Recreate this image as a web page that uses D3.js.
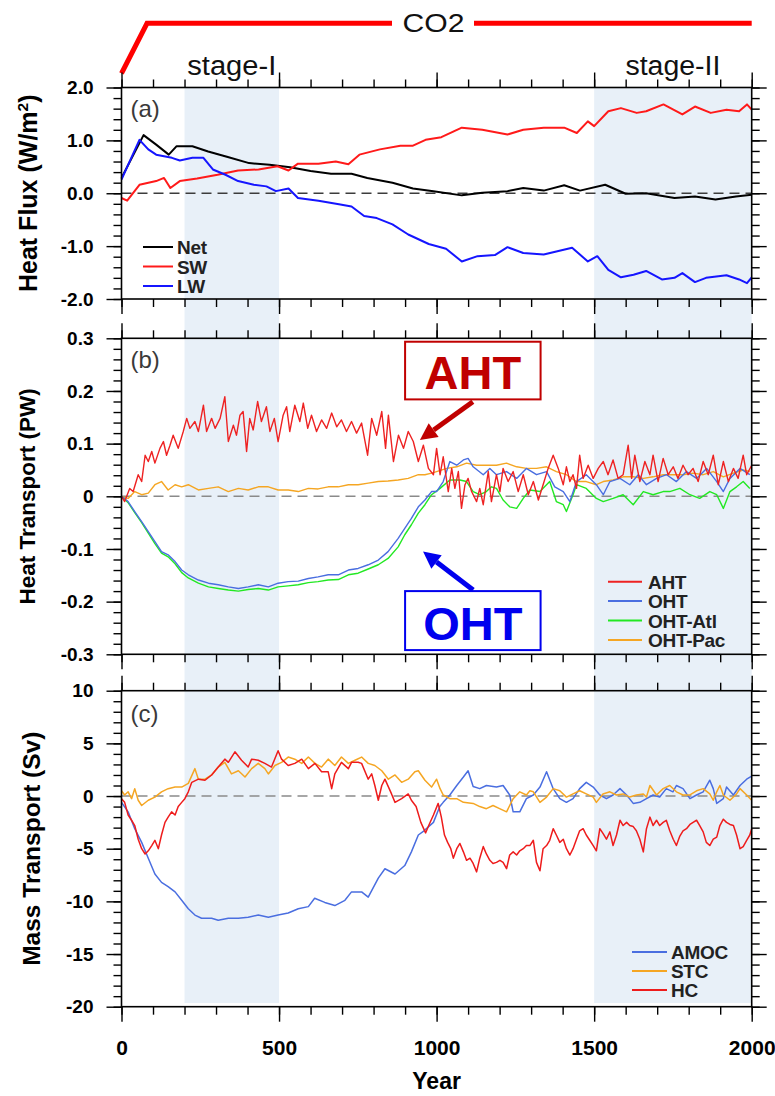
<!DOCTYPE html>
<html>
<head>
<meta charset="utf-8">
<script src="https://cdn.jsdelivr.net/npm/d3@7"></script>
<style>
  body { margin: 0; background: #fff; }
  svg text { font-family: "Liberation Sans", Arial, Helvetica, sans-serif; }
</style>
</head>
<body>
<svg id="chart" width="775" height="1096"></svg>
<script>
// ---------------- Panel (a): TOA heat flux anomalies (W/m2) ----------------
const netYears = [0,70,110,150,175,225,275,340,405,470,535,600,665,730,780,860,925,990,1080,1145,1225,1275,1340,1405,1455,1535,1600,1665,1755,1820,1885,1950,2000];
const netFlux  = [0.29,1.10,0.92,0.73,0.89,0.89,0.79,0.68,0.57,0.54,0.49,0.42,0.37,0.37,0.29,0.20,0.09,0.04,-0.04,0.01,0.04,0.10,0.05,0.15,0.05,0.16,-0.01,0.00,-0.09,-0.06,-0.12,-0.06,-0.03];

const swYears = [0,18,57,110,135,155,185,240,305,370,435,495,530,560,625,680,720,755,820,885,925,965,1015,1080,1145,1225,1275,1340,1405,1445,1480,1500,1545,1585,1635,1665,1720,1780,1820,1870,1920,1960,1985,2000];
const swFlux  = [-0.09,-0.14,0.16,0.23,0.29,0.10,0.23,0.28,0.35,0.43,0.45,0.51,0.43,0.56,0.56,0.60,0.55,0.73,0.83,0.90,0.90,1.01,1.06,1.24,1.20,1.11,1.20,1.24,1.24,1.14,1.36,1.27,1.55,1.61,1.52,1.55,1.68,1.49,1.64,1.52,1.58,1.55,1.68,1.58];

const lwYears = [0,57,85,110,160,185,225,260,290,330,370,420,460,490,530,560,625,690,730,770,810,860,910,975,1030,1080,1130,1185,1225,1275,1340,1380,1430,1480,1510,1545,1585,1625,1665,1715,1755,1780,1820,1855,1920,1960,1985,2000];
const lwFlux  = [0.26,1.01,0.83,0.73,0.67,0.62,0.67,0.67,0.45,0.35,0.23,0.16,0.13,0.04,0.09,-0.09,-0.14,-0.21,-0.25,-0.43,-0.47,-0.59,-0.78,-0.96,-1.05,-1.29,-1.19,-1.17,-1.02,-1.13,-1.16,-1.10,-1.03,-1.29,-1.19,-1.45,-1.59,-1.54,-1.47,-1.63,-1.60,-1.51,-1.68,-1.60,-1.55,-1.63,-1.70,-1.59];

// ---------------- Panel (b): cross-equatorial heat transport (PW) ----------------
const ahtYears = [0,10,26,37,53,64,75,85,96,106,122,133,143,154,164,180,196,207,217,233,244,260,270,286,297,313,328,339,355,365,376,386,397,407,418,432,444,460,471,485,497,513,524,534,550,566,577,591,603,619,635,651,667,683,698,714,730,746,762,781,794,810,826,838,847,863,879,895,910,926,942,958,974,990,1000,1011,1021,1037,1048,1058,1069,1079,1090,1100,1111,1127,1137,1148,1164,1174,1190,1201,1211,1227,1243,1259,1275,1291,1307,1323,1338,1354,1370,1386,1402,1412,1423,1433,1444,1454,1465,1481,1497,1513,1529,1544,1560,1576,1592,1608,1619,1629,1645,1661,1677,1687,1703,1719,1735,1751,1766,1782,1798,1814,1830,1846,1862,1878,1894,1910,1926,1942,1957,1973,1984,2000];
const ahtValues = [0,-0.010,0.015,0.009,0.041,0.028,0.078,0.066,0.085,0.063,0.091,0.104,0.078,0.097,0.116,0.091,0.123,0.148,0.129,0.142,0.123,0.173,0.123,0.148,0.129,0.148,0.189,0.104,0.135,0.116,0.154,0.161,0.085,0.148,0.126,0.180,0.142,0.170,0.123,0.148,0.104,0.154,0.170,0.123,0.173,0.142,0.177,0.129,0.154,0.123,0.145,0.129,0.158,0.132,0.145,0.123,0.142,0.120,0.139,0.078,0.148,0.116,0.161,0.091,0.154,0.066,0.116,0.091,0.123,0.104,0.066,0.097,0.053,0.041,0.091,0.041,0.075,0.009,0.053,0.015,0.047,-0.023,0.022,0.034,0.009,-0.010,0.015,-0.016,0.047,-0.010,0.041,0.009,0.053,0.028,0.047,0.009,0.041,0.003,0.028,-0.007,0.022,0.053,0.078,0.053,0.022,0.056,0.028,0.041,0.015,0.078,0.034,0.059,0.034,0.053,0.066,0.041,0.069,0.034,0.041,0.097,0.034,0.078,0.028,0.066,0.041,0.078,0.028,0.072,0.041,0.056,0.034,0.059,0.041,0.053,0.028,0.066,0.041,0.078,0.022,0.066,0.028,0.053,0.034,0.078,0.041,0.059];

const ohtYears = [0,21,42,64,85,106,127,148,170,191,212,244,276,307,339,371,402,434,466,497,529,561,593,624,656,688,720,751,783,815,846,878,899,920,942,963,984,1000,1021,1042,1064,1085,1100,1116,1148,1169,1190,1222,1254,1285,1317,1349,1375,1402,1423,1444,1475,1507,1529,1550,1582,1613,1640,1666,1698,1730,1761,1793,1825,1857,1889,1910,1931,1963,1994];
const ohtValues = [0,-0.010,-0.029,-0.048,-0.067,-0.086,-0.105,-0.111,-0.124,-0.140,-0.149,-0.159,-0.165,-0.168,-0.172,-0.175,-0.172,-0.168,-0.172,-0.165,-0.162,-0.161,-0.156,-0.153,-0.149,-0.149,-0.140,-0.137,-0.130,-0.121,-0.105,-0.080,-0.061,-0.042,-0.020,-0.007,0.009,0.009,0.028,0.066,0.059,0.069,0.072,0.056,0.041,0.053,0.041,0.047,0.034,0.053,0.041,0.047,0.018,0.009,-0.010,0.028,0.041,0.022,0.003,0.028,0.034,0.022,0.041,0.022,0.034,0.041,0.028,0.047,0.034,0.053,0.028,0.009,0.034,0.053,0.041];

const atlYears = [0,21,42,64,85,106,127,148,170,191,212,244,276,307,339,371,402,434,466,497,529,561,593,624,656,688,720,751,783,815,846,878,899,920,942,963,984,1011,1042,1074,1095,1116,1137,1158,1174,1190,1211,1232,1254,1275,1296,1328,1359,1380,1402,1412,1433,1444,1475,1507,1529,1560,1592,1624,1656,1687,1719,1740,1772,1804,1835,1867,1889,1910,1931,1952,1973,1994];
const atlValues = [0,-0.012,-0.031,-0.050,-0.070,-0.090,-0.108,-0.115,-0.128,-0.145,-0.155,-0.165,-0.172,-0.175,-0.178,-0.180,-0.177,-0.175,-0.178,-0.172,-0.170,-0.168,-0.164,-0.162,-0.159,-0.158,-0.149,-0.146,-0.138,-0.130,-0.118,-0.096,-0.073,-0.054,-0.032,-0.016,0.003,0.015,0.031,0.031,0.028,0.009,0.003,0.009,0.018,0.015,-0.007,-0.020,-0.023,-0.004,0.012,0.009,0.028,-0.010,-0.016,-0.029,0.003,0.022,0.015,-0.004,-0.010,-0.004,0.003,-0.016,0.009,0.003,0.009,0.009,0.015,0.003,-0.004,0.009,0.003,-0.023,0.009,0.018,0.028,0.015];

const pacYears = [0,21,42,64,85,106,127,148,170,191,212,244,276,307,339,371,402,434,466,497,529,561,593,624,656,688,720,751,783,815,846,878,910,942,963,984,1000,1032,1064,1095,1127,1158,1190,1222,1254,1285,1317,1349,1380,1412,1444,1475,1507,1529,1560,1592,1624,1656,1687,1719,1751,1782,1814,1846,1878,1910,1942,1973,1994];
const pacValues = [0,-0.004,0.009,0.003,0.006,0.022,0.028,0.012,0.022,0.018,0.022,0.012,0.015,0.018,0.009,0.015,0.012,0.018,0.018,0.012,0.012,0.009,0.015,0.014,0.018,0.018,0.022,0.022,0.025,0.028,0.029,0.031,0.034,0.041,0.041,0.044,0.047,0.053,0.056,0.063,0.059,0.059,0.059,0.063,0.056,0.053,0.053,0.056,0.047,0.041,0.028,0.028,0.022,0.028,0.031,0.037,0.037,0.034,0.037,0.041,0.041,0.041,0.044,0.041,0.047,0.037,0.044,0.050,0.047];

// ---------------- Panel (c): overturning mass transport (Sv) ----------------
const amocYears = [0,21,42,64,85,106,127,148,170,191,212,233,254,286,307,339,371,402,434,466,497,529,561,593,613,645,677,709,730,762,783,815,836,868,899,920,942,960,990,1010,1021,1042,1064,1085,1100,1116,1137,1158,1190,1211,1232,1243,1264,1285,1307,1328,1349,1370,1391,1412,1433,1454,1475,1497,1518,1539,1560,1582,1603,1624,1645,1666,1687,1708,1729,1750,1761,1782,1804,1825,1846,1867,1878,1889,1910,1920,1942,1963,1984,2000];
const amocValues = [-0.6,-1.5,-3.1,-4.4,-5.9,-7.4,-8.2,-8.6,-9.1,-9.9,-10.7,-11.3,-11.6,-11.6,-11.8,-11.6,-11.6,-11.5,-11.3,-11.5,-11.3,-11.1,-10.7,-10.5,-9.7,-10.1,-10.4,-9.9,-9.1,-9.1,-9.6,-7.8,-6.9,-7.4,-6.6,-5.3,-3.7,-3.3,-2.5,-1.0,-0.6,0.1,1.0,1.8,2.4,0.9,0.7,1.0,0.85,1.0,0.1,-1.5,-1.5,-0.25,0.1,0.85,2.3,0.7,-0.25,-0.6,-0.25,0.7,1.3,0.85,0.1,-0.25,0.1,0.7,0.1,-0.7,-0.6,-0.25,0.1,-0.1,0.7,0.4,1.0,0.7,-0.25,0.1,0.4,1.5,0.7,-0.7,-0.25,0.85,0.1,1.0,1.6,1.9];

const stcYears = [0,10,21,32,42,53,64,85,106,127,148,170,191,212,233,244,265,286,307,328,349,371,392,413,434,455,466,487,508,529,550,572,593,614,635,656,677,698,720,741,762,783,804,826,847,868,889,910,931,942,963,984,1000,1011,1021,1042,1064,1085,1116,1137,1158,1179,1200,1222,1243,1264,1285,1296,1307,1328,1349,1370,1391,1412,1433,1454,1475,1497,1507,1528,1550,1571,1592,1613,1634,1656,1666,1677,1698,1719,1740,1761,1782,1804,1825,1846,1867,1878,1889,1899,1910,1931,1952,1963,1984,2000];
const stcValues = [0.5,0.1,0.4,-0.25,0.7,-0.4,-0.9,-0.4,-0.1,0.4,0.7,0.85,0.85,1.2,2.6,1.6,1.6,2.0,2.75,3.2,2.1,2.4,1.8,2.6,3.1,2.6,2.1,2.9,3.2,3.7,3.5,3.1,3.7,3.1,2.75,3.5,2.9,3.7,3.1,3.4,3.7,3.1,2.9,2.4,1.6,2.0,1.3,1.6,2.3,2.4,1.5,0.85,1.6,0.7,0.1,-0.25,-0.25,-0.6,-0.7,-1.0,-1.2,-0.9,-1.2,-1.5,-0.25,0.4,0.1,0.5,0.4,-0.6,-0.1,0.7,0.5,-0.1,0.2,0.5,0.2,-0.1,-0.6,0.2,0.4,0.1,0.2,-0.1,0.1,0.2,-0.1,1.0,0.1,0.7,1.0,0.4,0.1,0.1,0.5,0.7,0.2,-0.4,0.4,1.0,0.1,-0.4,0.2,0.7,0.1,-0.4];

const hcYears = [0,10,21,32,42,53,64,75,85,96,106,117,127,138,148,159,170,180,191,201,212,223,244,265,286,307,328,339,360,381,402,413,434,455,476,497,508,529,550,572,593,614,635,656,667,677,698,720,730,751,762,783,794,804,815,826,836,857,868,889,910,920,935,950,965,975,990,1005,1015,1025,1035,1045,1053,1064,1074,1085,1095,1106,1116,1127,1137,1148,1158,1169,1179,1190,1201,1211,1222,1232,1243,1254,1264,1275,1285,1296,1307,1317,1328,1338,1349,1359,1370,1380,1391,1402,1412,1423,1433,1444,1454,1465,1475,1486,1497,1507,1518,1529,1539,1550,1560,1571,1582,1592,1603,1613,1624,1634,1645,1656,1666,1677,1687,1698,1708,1719,1729,1740,1751,1761,1772,1782,1793,1804,1814,1825,1835,1846,1856,1867,1878,1889,1899,1910,1920,1931,1942,1952,1963,1973,1984,1994,2000];
const hcValues = [-0.25,-0.6,-1.8,-2.3,-2.8,-4.1,-5.0,-5.5,-5.2,-4.7,-4.2,-5.0,-3.7,-2.5,-2.0,-1.5,-1.8,-1.0,-0.6,-0.25,0.4,1.3,1.6,1.5,2.0,2.75,3.5,3.2,4.2,3.4,2.75,3.5,3.4,3.1,2.75,4.3,3.5,2.9,3.1,3.5,2.6,3.1,2.3,2.3,0.7,2.1,3.2,2.6,3.2,3.2,3.1,1.6,2.1,1.0,-0.4,1.0,1.6,0.2,-0.6,-0.25,0.2,-0.4,-1.0,-2.5,-3.5,-2.8,-1.8,-0.7,-2.0,-3.7,-4.4,-5.0,-5.9,-5.0,-4.5,-5.3,-6.1,-5.9,-6.4,-7.2,-5.9,-4.8,-5.5,-6.1,-6.4,-6.3,-6.1,-6.3,-6.9,-5.6,-5.3,-5.6,-5.2,-5.0,-4.7,-4.7,-4.2,-6.3,-7.1,-5.0,-4.7,-4.2,-3.1,-3.7,-4.4,-4.1,-5.0,-5.6,-5.0,-4.1,-3.3,-3.1,-3.7,-4.2,-4.7,-5.2,-3.1,-3.6,-4.1,-3.4,-4.7,-3.7,-2.3,-2.8,-2.5,-2.8,-2.9,-3.3,-4.1,-5.3,-3.1,-2.0,-2.8,-2.3,-2.8,-2.5,-2.3,-3.3,-4.1,-4.7,-3.8,-3.3,-3.1,-2.7,-2.5,-2.3,-2.8,-3.4,-4.4,-4.7,-4.1,-3.9,-2.8,-2.2,-2.5,-2.7,-2.8,-3.7,-5.0,-4.8,-4.2,-3.7,-3.1];

// ---------------- Axis ticks and labels ----------------
const yearTicks = [0, 500, 1000, 1500, 2000];
const fluxTicks = [2, 1, 0, -1, -2];
const heatTicks = [0.3, 0.2, 0.1, 0, -0.1, -0.2, -0.3];
const massTicks = [10, 5, 0, -5, -10, -15, -20];
const stageSpans = [[200, 500, "stage-I"], [1500, 2000, "stage-II"]];

// ---------------- Layout ----------------
const svg = d3.select("#chart");
const x = d3.scaleLinear().domain([0, 2000]).range([121.5, 751.7]);
const majorLen = 15, minorLen = 8;

const panels = [
  {
    label: "(a)", top: 87.5, bottom: 299, domain: [-2, 2], ticks: fluxTicks, minorStep: 0.2,
    fmt: d => d.toFixed(1), zeroColor: "#3c3c3c", lineWidth: 2,
    title: ["Heat Flux (W/m", "2", ")"], titleSize: 25, titleX: 37,
    series: [
      {name: "Net", color: "#000000", years: netYears, values: netFlux},
      {name: "SW",  color: "#ff1a1a", years: swYears,  values: swFlux},
      {name: "LW",  color: "#1515ff", years: lwYears,  values: lwFlux}
    ],
    legend: {x1: 143, x2: 173, tx: 177, y0: 247, dy: 19.5}
  },
  {
    label: "(b)", top: 338.3, bottom: 654.3, domain: [-0.3, 0.3], ticks: heatTicks, minorStep: 0.02,
    fmt: d => d === 0 ? "0" : d.toFixed(1), zeroColor: "#8a8a8a", lineWidth: 1.4,
    title: ["Heat Transport (PW)"], titleSize: 22.5, titleX: 35,
    series: [
      {name: "OHT-Pac", color: "#f5a623", years: pacYears, values: pacValues, legendOrder: 3},
      {name: "OHT-Atl", color: "#22e822", years: atlYears, values: atlValues, legendOrder: 2},
      {name: "OHT",     color: "#4a6ee0", years: ohtYears, values: ohtValues, legendOrder: 1},
      {name: "AHT",     color: "#ee2222", years: ahtYears, values: ahtValues, legendOrder: 0}
    ],
    legend: {x1: 608, x2: 642, tx: 648, y0: 581.7, dy: 19.4}
  },
  {
    label: "(c)", top: 690.7, bottom: 1006.7, domain: [-20, 10], ticks: massTicks, minorStep: 1,
    fmt: d => String(d), zeroColor: "#8a8a8a", lineWidth: 1.5,
    title: ["Mass Transport (Sv)"], titleSize: 24.5, titleX: 40,
    series: [
      {name: "AMOC", color: "#4a6ee0", years: amocYears, values: amocValues, legendOrder: 0},
      {name: "STC",  color: "#f5a623", years: stcYears,  values: stcValues,  legendOrder: 1},
      {name: "HC",   color: "#ee1c1c", years: hcYears,   values: hcValues,   legendOrder: 2}
    ],
    legend: {x1: 632, x2: 667, tx: 671, y0: 952, dy: 19}
  }
];

// light-blue shading for the two analysis stages, spanning all panels
const shadeTop = 87.5, shadeBottom = 1003;
svg.append("g").selectAll("rect").data(stageSpans).join("rect")
  .attr("x", d => x(d[0])).attr("width", d => x(d[1]) - x(d[0]))
  .attr("y", shadeTop).attr("height", shadeBottom - shadeTop)
  .attr("fill", "#e8f0f8");

// stage names above the top panel
svg.append("g").selectAll("text").data(stageSpans).join("text")
  .attr("x", d => x((d[0] + d[1]) / 2)).attr("y", 75)
  .attr("text-anchor", "middle")
  .attr("font-size", 27).attr("fill", "#111")
  .attr("textLength", (d, i) => i === 0 ? 89 : 95)
  .attr("lengthAdjust", "spacingAndGlyphs")
  .text(d => d[2]);

// CO2 forcing schematic: ramp then constant
const co2Ramp = [0, 81];
const co2 = svg.append("g");
co2.append("path")
  .attr("d", `M${x(co2Ramp[0])},73.3 L${x(co2Ramp[1])},23.3 H${x(2000)}`)
  .attr("fill", "none").attr("stroke", "#ff0000").attr("stroke-width", 5);
co2.append("rect").attr("x", 392).attr("y", 10).attr("width", 82).attr("height", 26).attr("fill", "#fff");
co2.append("text").attr("x", 433.5).attr("y", 32).attr("text-anchor", "middle")
  .attr("font-size", 25).attr("fill", "#111")
  .attr("textLength", 62).attr("lengthAdjust", "spacingAndGlyphs")
  .text("CO2");

const range = (a, b, s) => d3.range(Math.round(a / s), Math.round(b / s) + 1).map(k => +(k * s).toFixed(4));

panels.forEach((p, idx) => {
  const y = d3.scaleLinear().domain(p.domain).range([p.bottom, p.top]);
  const g = svg.append("g");
  const minor = range(p.domain[0], p.domain[1], p.minorStep);
  const yearMinor = d3.range(0, 2001, 100);

  // dashed zero line
  g.append("line").attr("x1", x(0)).attr("x2", x(2000)).attr("y1", y(0)).attr("y2", y(0))
    .attr("stroke", p.zeroColor).attr("stroke-width", 1.5).attr("stroke-dasharray", "10,6");

  // series
  const line = d3.line().x(d => x(d[0])).y(d => y(d[1]));
  g.append("g").selectAll("path").data(p.series).join("path")
    .attr("d", s => line(d3.zip(s.years, s.values)))
    .attr("fill", "none").attr("stroke", s => s.color)
    .attr("stroke-width", p.lineWidth).attr("stroke-linejoin", "round");

  // frame
  g.append("rect").attr("x", x(0)).attr("y", p.top)
    .attr("width", x(2000) - x(0)).attr("height", p.bottom - p.top)
    .attr("fill", "none").attr("stroke", "#000").attr("stroke-width", 1.6);

  const styleAxis = sel => {
    sel.select(".domain").remove();
    sel.selectAll(".tick line").attr("stroke", "#000").attr("stroke-width", 1.4);
    sel.selectAll("text").attr("font-family", "'Liberation Sans', Arial, sans-serif")
      .attr("font-weight", "bold").attr("fill", "#000");
  };

  // left axis with labels
  g.append("g").attr("transform", `translate(${x(0)},0)`)
    .call(d3.axisLeft(y).tickValues(minor).tickSize(minorLen).tickFormat("")).call(styleAxis);
  g.append("g").attr("transform", `translate(${x(0)},0)`)
    .call(d3.axisLeft(y).tickValues(p.ticks).tickSize(majorLen).tickPadding(13).tickFormat(p.fmt))
    .call(styleAxis).selectAll("text").attr("font-size", 19);
  // right axis
  g.append("g").attr("transform", `translate(${x(2000)},0)`)
    .call(d3.axisRight(y).tickValues(minor).tickSize(minorLen).tickFormat("")).call(styleAxis);
  g.append("g").attr("transform", `translate(${x(2000)},0)`)
    .call(d3.axisRight(y).tickValues(p.ticks).tickSize(majorLen).tickFormat("")).call(styleAxis);
  // top axis
  g.append("g").attr("transform", `translate(0,${p.top})`)
    .call(d3.axisTop(x).tickValues(yearMinor).tickSize(minorLen).tickFormat("")).call(styleAxis);
  g.append("g").attr("transform", `translate(0,${p.top})`)
    .call(d3.axisTop(x).tickValues(yearTicks).tickSize(majorLen).tickFormat("")).call(styleAxis);
  // bottom axis (labels on the last panel only)
  g.append("g").attr("transform", `translate(0,${p.bottom})`)
    .call(d3.axisBottom(x).tickValues(yearMinor).tickSize(minorLen).tickFormat("")).call(styleAxis);
  const last = idx === panels.length - 1;
  g.append("g").attr("transform", `translate(0,${p.bottom})`)
    .call(d3.axisBottom(x).tickValues(yearTicks).tickSize(majorLen).tickPadding(18)
      .tickFormat(last ? d3.format("d") : ""))
    .call(styleAxis).selectAll("text").attr("font-size", 21);

  // panel letter
  g.append("text").attr("x", x(0) + 9).attr("y", p.top + (idx === 0 ? 29.5 : idx === 1 ? 29.5 : 31.5))
    .attr("font-family", "'Open Sans', 'Noto Sans', sans-serif")
    .attr("font-size", 24).attr("fill", "#3a3a3a").text(p.label);

  // y-axis title
  const cy = (p.top + p.bottom) / 2;
  const t = g.append("text").attr("transform", `translate(${p.titleX},${cy}) rotate(-90)`)
    .attr("text-anchor", "middle").attr("font-weight", "bold")
    .attr("font-size", p.titleSize).attr("fill", "#000");
  t.append("tspan").text(p.title[0]);
  if (p.title.length > 1) {
    t.append("tspan").attr("font-size", p.titleSize * 0.62).attr("dy", -p.titleSize * 0.38).text(p.title[1]);
    t.append("tspan").attr("dy", p.titleSize * 0.38).text(p.title[2]);
  }

  // legend
  const lg = g.append("g");
  const items = p.series.map((s, i) => ({...s, order: s.legendOrder !== undefined ? s.legendOrder : i}));
  items.forEach(s => {
    const ly = p.legend.y0 + s.order * p.legend.dy;
    lg.append("line").attr("x1", p.legend.x1).attr("x2", p.legend.x2).attr("y1", ly).attr("y2", ly)
      .attr("stroke", s.color).attr("stroke-width", 2);
    lg.append("text").attr("x", p.legend.tx).attr("y", ly + 7)
      .attr("font-weight", "bold").attr("font-size", 19).attr("fill", "#222")
      .attr("letter-spacing", -0.3).text(s.name);
  });

  // callouts for the heat-transport panel
  if (idx === 1) {
    const callouts = [
      {text: "AHT", color: "#c00000", box: [900, 1330, 0.2935, 0.184], from: [1115, 0.1796], to: [947, 0.1069]},
      {text: "OHT", color: "#0000ee", box: [900, 1330, -0.180, -0.292], from: [1116, -0.178], to: [957, -0.105]}
    ];
    callouts.forEach(c => {
      const bx0 = x(c.box[0]), bx1 = x(c.box[1]), by0 = y(c.box[2]), by1 = y(c.box[3]);
      g.append("rect").attr("x", bx0).attr("y", by0).attr("width", bx1 - bx0).attr("height", by1 - by0)
        .attr("fill", "#fff").attr("stroke", c.color).attr("stroke-width", 2);
      g.append("text").attr("x", (bx0 + bx1) / 2).attr("y", by1 - 10.5)
        .attr("text-anchor", "middle").attr("font-weight", "bold").attr("font-size", 47)
        .attr("fill", c.color).text(c.text);
      const x1 = x(c.from[0]), y1 = y(c.from[1]), x2 = x(c.to[0]), y2 = y(c.to[1]);
      const ang = Math.atan2(y2 - y1, x2 - x1), hl = 17, hw = 8.5;
      const hx = x2 - hl * Math.cos(ang), hy = y2 - hl * Math.sin(ang);
      g.append("line").attr("x1", x1).attr("y1", y1).attr("x2", hx).attr("y2", hy)
        .attr("stroke", c.color).attr("stroke-width", 5);
      g.append("path")
        .attr("d", `M${x2},${y2} L${hx + hw * Math.sin(ang)},${hy - hw * Math.cos(ang)} L${hx - hw * Math.sin(ang)},${hy + hw * Math.cos(ang)} Z`)
        .attr("fill", c.color);
    });
  }
});

// x-axis title
svg.append("text").attr("x", x(1000)).attr("y", 1089).attr("text-anchor", "middle")
  .attr("font-weight", "bold").attr("font-size", 23).attr("fill", "#000").text("Year");
</script>
</body>
</html>
